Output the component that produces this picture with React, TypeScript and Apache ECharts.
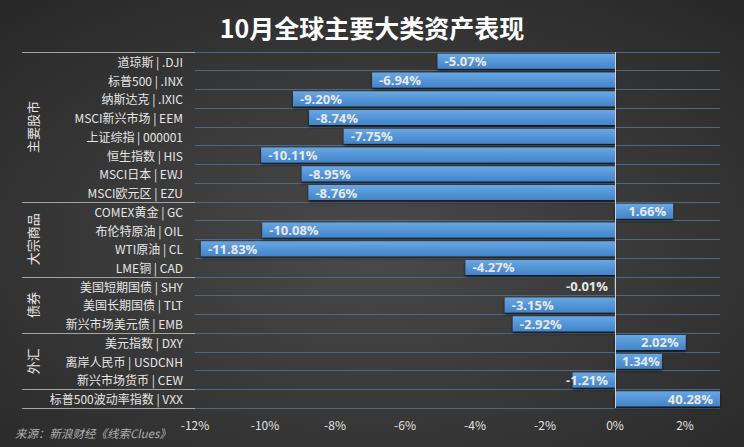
import React, { useEffect, useRef } from 'react';
import * as echarts from 'echarts';

const titleText = '10月全球主要大类资产表现';
const sourceText = '来源：新浪财经《线索Clues》';
const categories = [
  '道琼斯 | .DJI', '标普500 | .INX', '纳斯达克 | .IXIC', 'MSCI新兴市场 | EEM', '上证综指 | 000001',
  '恒生指数 | HIS', 'MSCI日本 | EWJ', 'MSCI欧元区 | EZU', 'COMEX黄金 | GC', '布伦特原油 | OIL',
  'WTI原油 | CL', 'LME铜 | CAD', '美国短期国债 | SHY', '美国长期国债 | TLT', '新兴市场美元债 | EMB',
  '美元指数 | DXY', '离岸人民币 | USDCNH', '新兴市场货币 | CEW', '标普500波动率指数 | VXX',
];
const values = [-5.07, -6.94, -9.2, -8.74, -7.75, -10.11, -8.95, -8.76, 1.66, -10.08, -11.83, -4.27, -0.01, -3.15, -2.92, 2.02, 1.34, -1.21, 40.28];
const groupNames = ['主要股市', '大宗商品', '债券', '外汇', ''];
const groupSizes = [8, 4, 3, 3, 1];
const xMin = -12;
const xMax = 3;
const xInterval = 2;

const CJK = '"Noto Sans CJK SC", "Noto Sans", sans-serif';

export default function App() {
  const ref = useRef<HTMLDivElement>(null);
  useEffect(() => {
    document.body.style.margin = '0';
    const chart = echarts.init(ref.current!, undefined, { renderer: 'svg' });
    const labelPos = (v: number) => {
      if (v <= -2) return 'insideLeft';
      if (v < 0) return 'insideRight';
      if (v < 1.5) return 'insideLeft';
      return 'insideRight';
    };
    chart.setOption({
      animation: false,
      backgroundColor: {
        type: 'radial', x: 0.5, y: 0.55, r: 0.75,
        colorStops: [
          { offset: 0, color: '#4a4a4a' },
          { offset: 1, color: '#272727' },
        ],
      },
      title: {
        text: titleText,
        left: 'center',
        top: 9,
        textStyle: { color: '#ffffff', fontSize: 25, fontWeight: 'bold', fontFamily: CJK },
      },
      grid: { left: 195, right: 24, top: 52, bottom: 39, containLabel: false },
      xAxis: {
        type: 'value',
        min: xMin,
        max: xMax,
        interval: xInterval,
        axisLine: { show: false },
        axisTick: { show: false },
        splitLine: { show: false },
        axisLabel: {
          color: '#e0e0e0',
          fontSize: 12,
          fontFamily: CJK,
          margin: 10,
          formatter: (v: number) => (Math.abs(v % 2) < 1e-9 ? `${v}%` : ''),
        },
      },
      yAxis: {
        type: 'category',
        inverse: true,
        data: categories,
        axisLine: { show: false },
        axisTick: { show: false },
        splitLine: { show: true, lineStyle: { color: '#4d6886', width: 1 } },
        axisLabel: { color: '#e6e6e6', fontSize: 12, fontFamily: CJK, margin: 12 },
      },
      series: [
        {
          type: 'bar',
          barWidth: 15,
          clip: true,
          data: values.map((v) => ({
            value: v,
            label: { position: labelPos(v) },
          })),
          itemStyle: {
            color: {
              type: 'linear', x: 0, y: 0, x2: 0, y2: 1,
              colorStops: [
                { offset: 0, color: '#68a7e3' },
                { offset: 1, color: '#4284cb' },
              ],
            },
            shadowColor: 'rgba(0,0,0,0.65)',
            shadowBlur: 3,
            shadowOffsetY: 2,
          },
          label: {
            show: true,
            distance: 7,
            color: '#e8e8e8',
            fontSize: 13,
            fontWeight: 'bold',
            fontFamily: '"Open Sans", "Noto Sans", sans-serif',
            formatter: (p: any) => `${Number(p.value).toFixed(2)}%`,
          },
          markLine: {
            silent: true,
            symbol: 'none',
            label: { show: false },
            lineStyle: { color: '#d0d0d0', type: 'solid', width: 1 },
            data: [{ xAxis: 0 }],
          },
        },
      ],
    });

    const c0 = chart.convertToPixel({ yAxisIndex: 0 }, 0) as number;
    const c1 = chart.convertToPixel({ yAxisIndex: 0 }, 1) as number;
    const step = c1 - c0;
    const top = c0 - step / 2;
    const gridLeft = chart.convertToPixel({ xAxisIndex: 0 }, xMin) as number;
    const lineLeft = 22;
    const graphics: any[] = [];
    let acc = 0;
    const bounds = [0];
    groupSizes.forEach((s) => {
      acc += s;
      bounds.push(acc);
    });
    bounds.forEach((b) => {
      const y = Math.round(top + b * step) + 0.5;
      graphics.push({
        type: 'line',
        silent: true,
        shape: { x1: lineLeft, y1: y, x2: gridLeft, y2: y },
        style: { stroke: '#a4a4a4', lineWidth: 1 },
      });
    });
    groupNames.forEach((name, i) => {
      if (!name) return;
      const mid = top + ((bounds[i] + bounds[i + 1]) / 2) * step;
      graphics.push({
        type: 'text',
        silent: true,
        x: 32,
        y: mid,
        rotation: Math.PI / 2,
        style: {
          text: name,
          fill: '#e6e6e6',
          fontSize: 13,
          fontFamily: CJK,
          align: 'center',
          verticalAlign: 'middle',
        },
      });
    });
    graphics.push({
      type: 'text',
      silent: true,
      x: 15,
      y: 433,
      style: {
        text: sourceText,
        fill: '#b0b0b0',
        fontSize: 11.5,
        fontStyle: 'italic',
        fontFamily: CJK,
        align: 'left',
        verticalAlign: 'middle',
      },
    });
    chart.setOption({ graphic: graphics });

    return () => chart.dispose();
  }, []);
  return <div ref={ref} style={{ width: 744, height: 447 }} />;
}
